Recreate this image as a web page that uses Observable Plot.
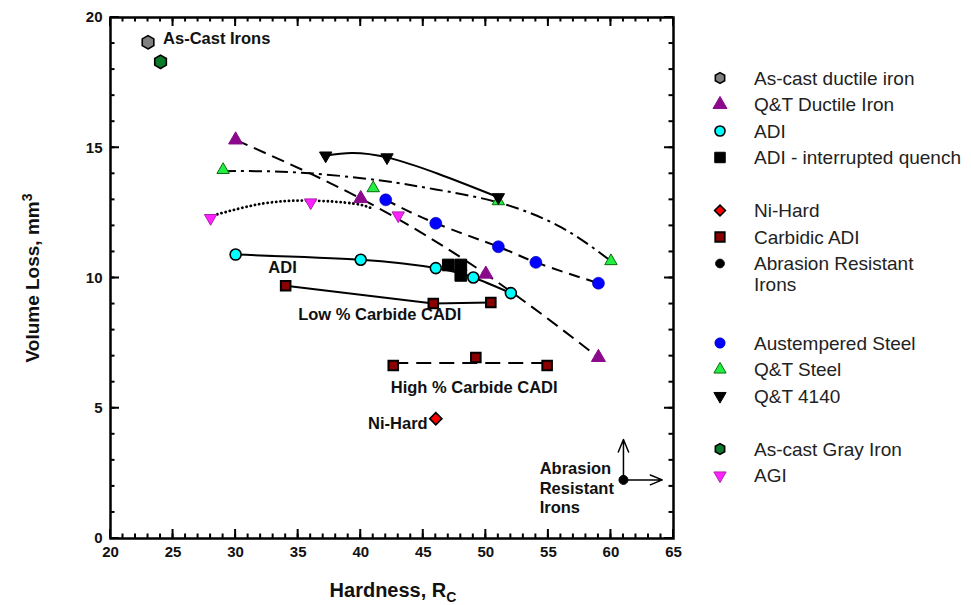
<!DOCTYPE html>
<html>
<head>
<meta charset="utf-8">
<script src="https://cdn.jsdelivr.net/npm/d3@7"></script>
<script src="https://cdn.jsdelivr.net/npm/@observablehq/plot@0.6"></script>
<style>
  body { margin: 0; background: #fff; }
  #wrap { position: relative; width: 971px; height: 605px; font-family: "Liberation Sans", Arial, sans-serif; }
  #wrap svg.plot { position: absolute; left: 0; top: 0; }
  #wrap svg.axes { z-index: 5; }
  .xtitle { position: absolute; left: 278px; width: 230px; top: 579px; text-align: center; font-weight: bold; font-size: 20px; color: #111; }
  .xtitle sub { font-size: 14px; vertical-align: -5px; }
  .ytitle { position: absolute; left: 31px; top: 278px; transform: translate(-50%, -50%) rotate(-90deg); white-space: nowrap; font-weight: bold; font-size: 19px; color: #111; }
  .ytitle sup { font-size: 14px; vertical-align: 7px; }
  #legend { position: absolute; left: 690px; top: 0; }
</style>
</head>
<body>
<div id="wrap"></div>
<script>
// ---------------- data (Hardness Rc, Volume loss mm3) ----------------
const asCastDuctileH = [23];          const asCastDuctileV = [19.05];
const asCastGrayH = [24];             const asCastGrayV = [18.3];
const qtDuctileH = [30, 40, 50, 59];  const qtDuctileV = [15.3, 13.05, 10.15, 6.95];
const adiH = [30, 40, 46, 49, 52];    const adiV = [10.9, 10.7, 10.38, 10.02, 9.42];
const adiIQH = [47, 48, 48];          const adiIQV = [10.5, 10.5, 10.1];
const austSteelH = [42, 46, 51, 54, 59]; const austSteelV = [13.0, 12.1, 11.2, 10.6, 9.8];
const qtSteelH = [29, 41, 51, 60];    const qtSteelV = [14.15, 13.45, 12.95, 10.65];
const qtSteelFitH = [29, 35, 41.6, 46, 51, 56, 60]; const qtSteelFitV = [14.1, 14.05, 13.74, 13.4, 12.9, 11.95, 10.65];
const qt4140H = [37.2, 42.1, 51];     const qt4140V = [14.7, 14.63, 13.1];
const agiH = [28, 36, 43];            const agiV = [12.3, 12.9, 12.4];
const agiFitH = [28.2, 32.2, 36, 39.4, 40.9]; const agiFitV = [12.4, 12.86, 12.97, 12.86, 12.67];
const lowCadiH = [34, 45.8, 50.4];    const lowCadiV = [9.7, 9.02, 9.06];
const highCadiH = [42.6, 49.2, 54.9]; const highCadiV = [6.64, 6.95, 6.64];
const highCadiFitH = [42.6, 54.9];    const highCadiFitV = [6.74, 6.74];
const niHardH = [46];                 const niHardV = [4.6];
const abrasionH = [61];               const abrasionV = [2.25];
const abrasionArrowH = [61, 64.1];    const abrasionArrowV = [3.8, 2.25];

const xMajor = [20, 25, 30, 35, 40, 45, 50, 55, 60, 65];
const xMinor = d3.range(20, 66, 1);
const yMajor = [0, 5, 10, 15, 20];
const yMinor = d3.range(0, 21, 1);

const annoText = ["As-Cast Irons", "ADI", "Low % Carbide CADI", "High % Carbide CADI", "Ni-Hard", "Abrasion\nResistant\nIrons"];
const annoH = [24.2, 33.75, 35.0, 42.4, 45.35, 54.3];
const annoV = [19.23, 10.44, 8.64, 5.83, 4.45, 1.96];
const annoAnchor = ["start", "middle", "start", "start", "end", "start"];

const legendLabels = ["As-cast ductile iron", "Q&T Ductile Iron", "ADI", "ADI - interrupted quench",
  "Ni-Hard", "Carbidic ADI", "Abrasion Resistant\nIrons",
  "Austempered Steel", "Q&T Steel", "Q&T 4140",
  "As-cast Gray Iron", "AGI"];
const legendRows = [0, 1, 2, 3, 5, 6, 7, 10, 11, 12, 14, 15];

// ---------------- helpers ----------------
const pts = (hs, vs) => hs.map((h, i) => ({x: h, y: vs[i]}));
const annos = annoText.map((t, i) => ({text: t, x: annoH[i], y: annoV[i], anchor: annoAnchor[i]}));
const arrows = abrasionArrowH.map((h, i) => ({x1: abrasionH[0], y1: abrasionV[0], x2: h, y2: abrasionArrowV[i]}));

const styles = {
  asCastDuctile: {symbol: "hexagon", fill: "#808080", stroke: "#000", r: 5.8, strokeWidth: 1.6},
  qtDuctile: {symbol: "triangle", fill: "#8b0a8b", stroke: "#8b0a8b", r: 5.2, strokeWidth: 1},
  adi: {symbol: "circle", fill: "#00ffff", stroke: "#000", r: 5.5, strokeWidth: 1.6},
  adiIQ: {symbol: "square", fill: "#000", stroke: "#000", r: 6.6, strokeWidth: 1},
  niHard: {symbol: "diamond2", fill: "#ff0000", stroke: "#000", r: 5.5, strokeWidth: 1.6},
  cadi: {symbol: "square", fill: "#8b0000", stroke: "#000", r: 5.4, strokeWidth: 2},
  abrasion: {symbol: "circle", fill: "#000", stroke: "#000", r: 4.5, strokeWidth: 1},
  austSteel: {symbol: "circle", fill: "#0000ff", stroke: "#0000aa", r: 6, strokeWidth: 0.6},
  qtSteel: {symbol: "triangle", fill: "#22ee44", stroke: "#0a6a0a", r: 4.6, strokeWidth: 1},
  qt4140: {symbol: "triangle", fill: "#000", stroke: "#000", r: 4.6, strokeWidth: 1, rotate: 180},
  asCastGray: {symbol: "hexagon", fill: "#0b7a2a", stroke: "#000", r: 5.8, strokeWidth: 1.6},
  agi: {symbol: "triangle", fill: "#ff22ff", stroke: "#aa22aa", r: 4.6, strokeWidth: 1, rotate: 180}
};
const legendStyleKeys = ["asCastDuctile", "qtDuctile", "adi", "adiIQ", "niHard", "cadi", "abrasion", "austSteel", "qtSteel", "qt4140", "asCastGray", "agi"];

const dotMark = (data, key) => Plot.dot(data, {x: "x", y: "y", ...styles[key]});
const lineMark = (data, dash, curve = "natural", width = 2) =>
  Plot.line(data, {x: "x", y: "y", curve, stroke: "#000", strokeWidth: width, strokeDasharray: dash, strokeLinecap: dash && dash.startsWith("0.") ? "round" : "butt"});

const W = 971, H = 605, ML = 110, MR = 298, MT = 17, MB = 67;
const innerW = W - ML - MR, innerH = H - MT - MB;

const common = {
  width: W, height: H,
  marginLeft: ML, marginRight: MR, marginTop: MT, marginBottom: MB,
  style: {fontFamily: "'Liberation Sans', Arial, sans-serif", background: "transparent", color: "#111"}
};

// data layer
const chart = Plot.plot({
  ...common,
  x: {domain: [20, 65], axis: null},
  y: {domain: [0, 20], axis: null},
  marks: [
    lineMark(pts(qtDuctileH, qtDuctileV), "13,7"),
    lineMark(pts(adiH, adiV), null),
    lineMark(pts(austSteelH, austSteelV), "11,7"),
    lineMark(pts(qtSteelFitH, qtSteelFitV), "13,5,3,5"),
    lineMark(pts(qt4140H, qt4140V), null),
    lineMark(pts(agiFitH, agiFitV), "0.1,4.2", "natural", 2.8),
    lineMark(pts(lowCadiH, lowCadiV), null, "linear"),
    lineMark(pts(highCadiFitH, highCadiFitV), "15,8", "linear"),

    Plot.arrow(arrows, {x1: "x1", y1: "y1", x2: "x2", y2: "y2", stroke: "#000", strokeWidth: 1.5, headLength: 14, headAngle: 45}),

    dotMark(pts(asCastDuctileH, asCastDuctileV), "asCastDuctile"),
    dotMark(pts(asCastGrayH, asCastGrayV), "asCastGray"),
    dotMark(pts(qtSteelH, qtSteelV), "qtSteel"),
    dotMark(pts(qt4140H, qt4140V), "qt4140"),
    dotMark(pts(agiH, agiV), "agi"),
    dotMark(pts(austSteelH, austSteelV), "austSteel"),
    dotMark(pts(qtDuctileH, qtDuctileV), "qtDuctile"),
    dotMark(pts(adiH, adiV), "adi"),
    dotMark(pts(adiIQH, adiIQV), "adiIQ"),
    dotMark(pts(lowCadiH, lowCadiV), "cadi"),
    dotMark(pts(highCadiH, highCadiV), "cadi"),
    dotMark(pts(niHardH, niHardV), "niHard"),
    dotMark(pts(abrasionH, abrasionV), "abrasion"),

    ...["start", "middle", "end"].map(a =>
      Plot.text(annos.filter(d => d.anchor === a), {x: "x", y: "y", text: "text", textAnchor: a, fontSize: 16.5, fontWeight: "bold", lineHeight: 1.18, fill: "#111"}))
  ]
});
chart.classList.add("plot");

// axes layer: tick labels and frame
const axesChart = Plot.plot({
  ...common,
  x: {domain: [20, 65]},
  y: {domain: [0, 20]},
  marks: [
    Plot.axisX(xMajor, {anchor: "bottom", tickSize: 0, tickPadding: 8, label: null, fontSize: 15, fontWeight: "bold"}),
    Plot.axisY(yMajor, {anchor: "left", tickSize: 0, tickPadding: 8, label: null, fontSize: 15, fontWeight: "bold"}),
    Plot.frame({stroke: "#000", strokeWidth: 2.5})
  ]
});
axesChart.classList.add("plot");
axesChart.classList.add("axes");

// inward ticks on all four frame edges, positioned with the plot's own scales
const sx = axesChart.scale("x"), sy = axesChart.scale("y");
const tickSegs = [];
for (const [vals, len] of [[xMinor, 4.5], [xMajor, 9]]) {
  for (const v of vals) {
    const px = sx.apply(v);
    tickSegs.push({x1: px, y1: MT, x2: px, y2: MT + len});
    tickSegs.push({x1: px, y1: H - MB, x2: px, y2: H - MB - len});
  }
}
for (const [vals, len] of [[yMinor, 4.5], [yMajor, 9]]) {
  for (const v of vals) {
    const py = sy.apply(v);
    tickSegs.push({x1: ML, y1: py, x2: ML + len, y2: py});
    tickSegs.push({x1: W - MR, y1: py, x2: W - MR - len, y2: py});
  }
}
d3.select(axesChart).append("g").attr("aria-label", "ticks")
  .selectAll("line").data(tickSegs).join("line")
  .attr("x1", d => d.x1).attr("y1", d => d.y1).attr("x2", d => d.x2).attr("y2", d => d.y2)
  .attr("stroke", "#000").attr("stroke-width", 2);

const wrap = document.getElementById("wrap");
wrap.appendChild(chart);

const xt = document.createElement("div");
xt.className = "xtitle";
xt.innerHTML = "Hardness, R<sub>C</sub>";
wrap.appendChild(xt);
const yt = document.createElement("div");
yt.className = "ytitle";
yt.innerHTML = "Volume Loss, mm<sup>3</sup>";
wrap.appendChild(yt);

// ---------------- legend ----------------
const symbolMap = {
  circle: d3.symbolCircle, triangle: d3.symbolTriangle, square: d3.symbolSquare, diamond2: d3.symbolDiamond2,
  hexagon: {draw(ctx, size) {
    const r = Math.sqrt(size / (3 * Math.sqrt(3) / 2));
    for (let i = 0; i < 6; i++) {
      const a = Math.PI / 3 * i - Math.PI / 2;
      const px = r * Math.cos(a), py = r * Math.sin(a);
      i ? ctx.lineTo(px, py) : ctx.moveTo(px, py);
    }
    ctx.closePath();
  }}
};
const lsvg = d3.select(wrap).append("svg").attr("id", "legend").attr("width", 281).attr("height", 605);
const legendSize = {asCastDuctile: 75, qtDuctile: 85, adi: 80, adiIQ: 110, niHard: 75, cadi: 90, abrasion: 60, austSteel: 85, qtSteel: 65, qt4140: 65, asCastGray: 75, agi: 65};
legendLabels.forEach((lab, i) => {
  const key = legendStyleKeys[i];
  const s = styles[key];
  const cy = 78 + 26.5 * legendRows[i];
  const g = lsvg.append("g").attr("transform", `translate(30,${cy})`);
  g.append("path")
    .attr("d", d3.symbol(symbolMap[s.symbol], legendSize[key])())
    .attr("transform", s.rotate ? `rotate(${s.rotate})` : null)
    .attr("fill", s.fill).attr("stroke", s.stroke).attr("stroke-width", Math.min(s.strokeWidth, 1.8));
  const t = lsvg.append("text").attr("x", 64).attr("y", cy)
    .attr("font-family", "'Liberation Sans', Arial, sans-serif").attr("font-size", 19).attr("fill", "#222");
  lab.split("\n").forEach((part, j) => t.append("tspan").attr("x", 64).attr("dy", j ? "1.12em" : "0.35em").text(part));
});

// axes layer last, on top of everything
wrap.appendChild(axesChart);
</script>
</body>
</html>
